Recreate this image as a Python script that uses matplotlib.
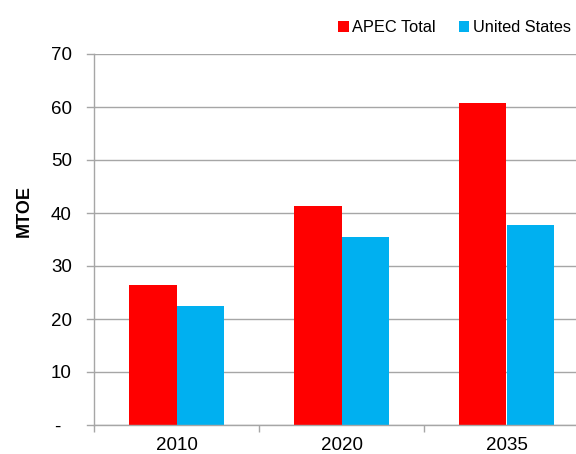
import matplotlib.pyplot as plt
import numpy as np

plt.rcParams['font.family'] = ['Liberation Sans', 'DejaVu Sans']

years = ['2010', '2020', '2035']
apec_total = [26.4, 41.3, 60.8]
united_states = [22.5, 35.4, 37.8]
y_ticks = [0, 10, 20, 30, 40, 50, 60, 70]
y_tick_labels = ['-  ', '10', '20', '30', '40', '50', '60', '70']

grid_color = '#a6a6a6'

fig = plt.figure(figsize=(5.76, 4.54), dpi=100)
ax = fig.add_axes([94 / 576, 29 / 454, 495 / 576, 371 / 454])

x = np.arange(len(years))
w = 0.285
ax.bar(x - w / 2, apec_total, w, color='#ff0000', label='APEC Total', zorder=3)
ax.bar(x + w / 2, united_states, w, color='#00b0f0', label='United States', zorder=3)

ax.set_xlim(-0.5, len(years) - 0.5)
ax.set_ylim(0, 70)
ax.set_yticks(y_ticks)
ax.set_yticklabels(y_tick_labels, fontsize=13.5)
ax.set_xticks(x)
ax.set_xticklabels(years, fontsize=13.5)
ax.tick_params(axis='x', length=0, pad=9)
ax.tick_params(axis='y', length=0, pad=16)

# category boundary ticks on the x axis
ax.set_xticks(np.arange(len(years) + 1) - 0.5, minor=True)
ax.tick_params(axis='x', which='minor', length=5, color=grid_color, width=1)

ax.grid(axis='y', color=grid_color, linewidth=1, zorder=0)
for s in ['top', 'right']:
    ax.spines[s].set_visible(False)
for s in ['left', 'bottom']:
    ax.spines[s].set_color(grid_color)
    ax.spines[s].set_linewidth(1)
    ax.spines[s].set_zorder(4)

# short gridline stubs to the left of the axis
for t in y_ticks:
    ax.plot([-0.54, -0.5], [t, t], color=grid_color, linewidth=1, clip_on=False, zorder=2)

ax.set_ylabel('MTOE', fontsize=13, fontweight='bold')
ax.yaxis.set_label_coords((33 - 94) / 495, (425 - 211) / 371)

ax.legend(loc='center right', bbox_to_anchor=(567 / 589, 1 + 26 / 371), ncol=2, frameon=False,
          fontsize=11.8, handlelength=0.65, handleheight=0.65, handletextpad=0.2, columnspacing=1.4,
          borderaxespad=0, borderpad=0)

fig.savefig('out.png', dpi=100)
